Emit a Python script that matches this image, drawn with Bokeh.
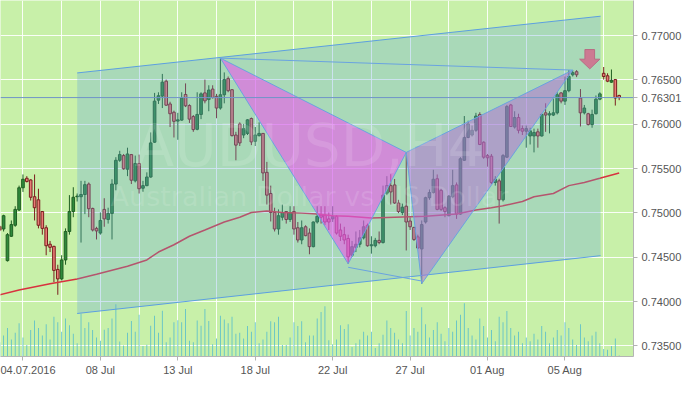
from bokeh.plotting import figure
from bokeh.models import Range1d, FixedTicker, Label, PrintfTickFormatter, Span
from bokeh.embed import file_html
from bokeh.resources import INLINE

# ---------------- data (AUDUSD H4 candles) ----------------
opens = [0.74848,0.74819,0.74462,0.74737,0.74861,0.75033,0.75284,0.75391,0.75372,0.75183,
0.75148,0.75016,0.74833,0.74647,0.74623,0.74363,0.74256,0.74470,0.74791,0.75016,
0.75183,0.75183,0.75208,0.75326,0.75051,0.74826,0.74773,0.75040,0.74926,0.74994,
0.75326,0.75594,0.75647,0.75493,0.75658,0.75362,0.75558,0.75279,0.75308,0.75405,
0.75798,0.76272,0.76318,0.76486,0.76229,0.76136,0.76036,0.76047,0.76336,0.76211,
0.76087,0.75943,0.76111,0.76354,0.76279,0.76397,0.76315,0.76183,0.76333,0.76515,
0.76390,0.75879,0.76004,0.75879,0.75897,0.76065,0.75808,0.75872,0.75897,0.75458,
0.75219,0.75005,0.74819,0.74952,0.75016,0.74926,0.75016,0.74833,0.74695,0.74844,
0.74773,0.74620,0.74898,0.74976,0.74976,0.74933,0.74933,0.74962,0.74808,0.74755,
0.74712,0.74523,0.74612,0.74647,0.74719,0.74861,0.74630,0.74630,0.74691,0.74666,
0.75223,0.75308,0.75316,0.75112,0.75005,0.75076,0.74909,0.74837,0.74730,0.74594,
0.74898,0.75172,0.75230,0.75386,0.75255,0.75059,0.74969,0.75183,0.75316,0.74987,
0.75594,0.75851,0.75879,0.75932,0.76111,0.75798,0.75647,0.75640,0.75344,0.75362,
0.75148,0.75629,0.76218,0.75969,0.76076,0.75951,0.75922,0.75868,0.75868,0.75915,
0.75868,0.76129,0.76104,0.76104,0.76129,0.76354,0.76261,0.76379,0.76558,0.76593,
0.76296,0.76129,0.76119,0.75997,0.76119,0.76283,0.76575,0.76547,0.76475,0.76504,
0.76325]
highs = [0.74858,0.74980,0.74773,0.74915,0.75076,0.75308,0.75434,0.75415,0.75380,0.75434,
0.75273,0.75022,0.74861,0.74684,0.74630,0.74416,0.74523,0.74826,0.75201,0.75290,
0.75219,0.75362,0.75362,0.75344,0.75059,0.74844,0.75005,0.75166,0.75059,0.75380,
0.75629,0.75701,0.75665,0.75736,0.75665,0.75647,0.75658,0.75362,0.75458,0.75908,
0.76354,0.76361,0.76568,0.76504,0.76254,0.76154,0.76129,0.76361,0.76461,0.76226,
0.76104,0.76361,0.76361,0.76504,0.76440,0.76440,0.76343,0.76746,0.76585,0.76539,
0.76397,0.75915,0.76022,0.76004,0.76058,0.76076,0.75969,0.76022,0.75900,0.75576,
0.75308,0.75059,0.75040,0.75094,0.75022,0.75076,0.75076,0.74898,0.74915,0.74861,
0.74826,0.74904,0.75076,0.75076,0.75076,0.75005,0.75076,0.74976,0.74880,0.74844,
0.74755,0.74684,0.74791,0.74808,0.74915,0.74880,0.74737,0.74719,0.74791,0.75308,
0.75415,0.75437,0.75383,0.75148,0.75105,0.75683,0.74952,0.74844,0.74755,0.74915,
0.75183,0.75265,0.75487,0.75434,0.75273,0.75076,0.75201,0.75487,0.75344,0.75629,
0.76093,0.76040,0.75986,0.76129,0.76136,0.75808,0.75665,0.75665,0.75415,0.75386,
0.75665,0.76218,0.76230,0.76147,0.76119,0.75986,0.75986,0.75961,0.75951,0.75951,
0.76119,0.76237,0.76147,0.76290,0.76361,0.76361,0.76539,0.76611,0.76611,0.76611,
0.76397,0.76218,0.76129,0.76165,0.76325,0.76361,0.76646,0.76575,0.76618,0.76511,
0.76333]
lows = [0.74794,0.74791,0.74452,0.74730,0.74844,0.75022,0.75237,0.75344,0.75140,0.74915,
0.74826,0.74755,0.74523,0.74559,0.74219,0.74077,0.74238,0.74416,0.74755,0.74952,
0.75129,0.74666,0.74987,0.74952,0.74791,0.74701,0.74755,0.74844,0.74880,0.74701,
0.75255,0.75576,0.75487,0.75415,0.75326,0.75344,0.75219,0.75237,0.75301,0.75397,
0.75790,0.76229,0.76183,0.76208,0.75969,0.75851,0.75825,0.76040,0.76194,0.76015,
0.75915,0.75932,0.76058,0.76236,0.76147,0.76290,0.76068,0.76165,0.76236,0.76361,
0.75862,0.75594,0.75755,0.75843,0.75879,0.75765,0.75755,0.75862,0.75362,0.75094,
0.74904,0.74791,0.74755,0.74915,0.74880,0.74898,0.74755,0.74666,0.74647,0.74737,
0.74534,0.74612,0.74880,0.74880,0.74862,0.74808,0.74898,0.74755,0.74684,0.74647,
0.74427,0.74505,0.74559,0.74612,0.74701,0.74620,0.74541,0.74612,0.74647,0.74655,
0.75201,0.75094,0.75101,0.74998,0.74976,0.74577,0.74808,0.74684,0.74594,0.74202,
0.74880,0.75148,0.75219,0.75030,0.75022,0.74952,0.74962,0.75166,0.74933,0.74980,
0.75587,0.75843,0.75862,0.75915,0.75765,0.75611,0.75522,0.75326,0.75308,0.74880,
0.75129,0.75619,0.75969,0.75951,0.75897,0.75879,0.75736,0.75772,0.75683,0.75736,
0.75862,0.75915,0.75897,0.76093,0.76111,0.76236,0.76218,0.76361,0.76539,0.76532,
0.75975,0.76111,0.75986,0.75961,0.76111,0.76272,0.76504,0.76475,0.76468,0.76211,
0.76272]
closes = [0.74805,0.74969,0.74755,0.74869,0.75040,0.75284,0.75380,0.75354,0.75177,0.75059,
0.74861,0.74826,0.74630,0.74612,0.74352,0.74256,0.74470,0.74791,0.75016,0.75177,
0.75190,0.75208,0.75319,0.75048,0.74808,0.74797,0.74915,0.74933,0.74994,0.75326,
0.75594,0.75658,0.75498,0.75665,0.75369,0.75558,0.75273,0.75308,0.75405,0.75790,
0.76261,0.76322,0.76475,0.76215,0.76119,0.76033,0.76050,0.76296,0.76208,0.76058,
0.75940,0.76111,0.76343,0.76264,0.76386,0.76301,0.76183,0.76333,0.76504,0.76379,
0.75872,0.75765,0.75790,0.75951,0.76050,0.75801,0.75879,0.75897,0.75451,0.75201,
0.75005,0.74819,0.74969,0.75005,0.74926,0.75005,0.74819,0.74695,0.74833,0.74744,
0.74620,0.74898,0.74962,0.74952,0.74898,0.74898,0.74962,0.74773,0.74737,0.74695,
0.74505,0.74620,0.74647,0.74719,0.74844,0.74630,0.74641,0.74691,0.74666,0.75201,
0.75308,0.75237,0.75112,0.75016,0.75065,0.74898,0.74844,0.74701,0.74605,0.74869,
0.75172,0.75230,0.75380,0.75040,0.75040,0.75016,0.75190,0.75308,0.74987,0.75611,
0.75851,0.76004,0.75932,0.76093,0.75772,0.75629,0.75622,0.75344,0.75380,0.75148,
0.75647,0.76200,0.75975,0.76076,0.75932,0.75922,0.75951,0.75926,0.75908,0.75868,
0.76111,0.76104,0.76119,0.76129,0.76333,0.76261,0.76379,0.76539,0.76582,0.76558,
0.76129,0.76183,0.75997,0.76111,0.76283,0.76343,0.76539,0.76486,0.76497,0.76296,
0.76301]

# tick volume, one value per bar
volumes = [1500,2200,3000,1800,2500,3500,2000,1200,2800,3800,3000,2200,3400,1800,4200,3600,
2600,4000,3300,2400,1400,4500,3000,3600,2800,2000,
1670,2830,3000,4000,5500,1570,1170,2500,3730,2600,4400,1100,1230,3230,4300,2500,
4830,1500,2000,3600,3830,3600,5000,1670,1500,3800,3230,5000,3730,1300,1900,4300,3900,3500,
4200,2400,2500,1900,3200,2600,3600,1400,1800,2600,3700,3600,4200,1200,1200,2000,3600,3200,
3700,1500,2200,2200,4000,4700,5300,1700,1300,1800,3300,2900,3400,1000,1400,1800,2600,2200,
2600,900,1400,2300,3800,
3000,2500,1800,1400,4800,2200,3000,2600,5200,3400,2000,2800,3600,2400,1600,3000,2600,3800,
4400,5600,3000,2200,1800,4000,3200,2000,2800,1600,4200,3600,4800,3000,2200,2600,1400,2000,
1600,2400,1800,3200,2600,1400,2000,2800,2200,3600,3000,1800,1200,3400,2000,1600,2200,2600,
1400,800,700,1100,1900,100]

# moving average, sampled at bar indices
ma_bar = [0,5,13,20,25,33,38,41,45,49,53,58,62,65,69,73,78,82,86,90,96,102,110,118,123,127,130,135,138,143,147,151,155,160]
ma_val = [0.74077,0.74130,0.74202,0.74256,0.74309,0.74398,0.74470,0.74559,0.74641,0.74737,
0.74808,0.74898,0.74952,0.75005,0.75022,0.75005,0.74998,0.74987,0.74969,0.74962,0.74944,
0.74952,0.74962,0.74987,0.75033,0.75059,0.75080,0.75129,0.75183,0.75219,0.75308,0.75344,
0.75391,0.75451]

# axis ticks and labels
price_ticks = [0.735,0.740,0.745,0.750,0.755,0.760,0.765,0.770]
date_ticks = [6,26,46,66,86,106,126,146]
date_labels = ["04.07.2016","08 Jul","13 Jul","18 Jul","22 Jul","27 Jul","01 Aug","05 Aug"]
last_price = 0.76301

# drawn objects (bar index, price)
channel_bar = [20, 155.2]
channel_top = [0.76579, 0.77219]
channel_bot = [0.73866, 0.74518]
xab_bar = [57, 90, 105]
xab_price = [0.76746, 0.74427, 0.75683]
bcd_bar = [105, 109, 148]
bcd_price = [0.75683, 0.74202, 0.76611]
xd_bar = [57, 148]
xd_price = [0.76746, 0.76611]
ac_bar = [90, 109]
ac_price = [0.74387, 0.74232]
arrow_bar = 152.4
arrow_tip, arrow_neck, arrow_top = 0.76625, 0.76734, 0.76843

# ---------------- figure ----------------
p = figure(width=684, height=378, output_backend="svg", toolbar_location=None,
           x_range=Range1d(0.2, 163.7), y_range=Range1d(0.73381, 0.77396),
           y_axis_location="right", background_fill_color="#c8f0a9",
           border_fill_color="white", outline_line_color=None,
           min_border_left=0, min_border_top=0, min_border_right=0, min_border_bottom=0)

p.extra_y_ranges = {"vol": Range1d(0, 37500)}

# grid
p.xgrid.ticker = FixedTicker(ticks=list(range(6, 161, 10)))
p.ygrid.ticker = FixedTicker(ticks=price_ticks)
for g in (p.xgrid, p.ygrid):
    g.grid_line_color = "white"
    g.grid_line_alpha = 0.9
    g.grid_line_width = 1

# axes
p.yaxis.ticker = FixedTicker(ticks=price_ticks + [last_price])
p.yaxis.formatter = PrintfTickFormatter(format="%.5f")
p.xaxis.ticker = FixedTicker(ticks=date_ticks)
p.xaxis.major_label_overrides = {t: l for t, l in zip(date_ticks, date_labels)}
for ax in (p.xaxis, p.yaxis):
    ax.axis_line_color = "#b4b4b4"
    ax.major_tick_line_color = "#b4b4b4"
    ax.major_tick_out = 4
    ax.major_tick_in = 0
    ax.minor_tick_line_color = None
    ax.major_label_text_font = "Liberation Sans"
    ax.major_label_text_font_size = "11px"
    ax.major_label_text_color = "#555555"
p.yaxis.major_label_standoff = 4
p.xaxis.major_label_standoff = 3

# volume
vol_x = list(range(len(volumes)))
p.vbar(x=vol_x, top=volumes, bottom=0, width=0.22, y_range_name="vol",
       fill_color="#5cbfca", line_color=None)

# candles
idx = list(range(len(opens)))
up = [c >= o for o, c in zip(opens, closes)]
wick_col = ["#1f5e22" if u else "#7a1e1e" for u in up]
body_fill = ["#2f8a3c" if u else "#e77b76" for u in up]
tops = [max(o, c) for o, c in zip(opens, closes)]
bots = [min(o, c) for o, c in zip(opens, closes)]
p.segment(x0=idx, y0=lows, x1=idx, y1=highs, line_color=wick_col, line_width=1)
p.vbar(x=idx, top=tops, bottom=bots, width=0.68, fill_color=body_fill,
       line_color=wick_col, line_width=1)

# moving average
p.line(ma_bar, ma_val, line_color="#d8323f", line_width=1.5)

# channel
p.patch([channel_bar[0], channel_bar[1], channel_bar[1], channel_bar[0]],
        [channel_top[0], channel_top[1], channel_bot[1], channel_bot[0]],
        fill_color="#64a7dc", fill_alpha=0.3, line_color=None)
p.line(channel_bar, channel_top, line_color="#5c9fe0", line_width=1)
p.line(channel_bar, channel_bot, line_color="#5c9fe0", line_width=1)

# harmonic pattern
p.patch(xab_bar, xab_price, fill_color="#f04cf0", fill_alpha=0.55,
        line_color="#6aa3e0", line_width=1)
p.patch(bcd_bar, bcd_price, fill_color="#b26ad6", fill_alpha=0.5,
        line_color="#6aa3e0", line_width=1)
p.line(xd_bar, xd_price, line_color="#6aa3e0", line_width=1)
p.line(ac_bar, ac_price, line_color="#6aa3e0", line_width=1)

# arrow
aw_s, aw_h = 1.25, 2.6
p.patch([arrow_bar - aw_s, arrow_bar + aw_s, arrow_bar + aw_s, arrow_bar + aw_h, arrow_bar,
         arrow_bar - aw_h, arrow_bar - aw_s],
        [arrow_top, arrow_top, arrow_neck, arrow_neck, arrow_tip, arrow_neck, arrow_neck],
        fill_color="#cc7a92", line_color="#b86c84", line_width=1)

# current price line
p.add_layout(Span(location=last_price, dimension="width", line_color="#6f94c8", line_width=1))

# watermark
p.add_layout(Label(x=80, y=0.75758, text="AUDUSD,H4", text_align="center",
                   text_baseline="middle", text_color="white", text_alpha=0.13,
                   text_font="DejaVu Sans", text_font_size="58px"))
p.add_layout(Label(x=80, y=0.75190, text="Australian Dollar vs US Dollar", text_align="center",
                   text_baseline="middle", text_color="white", text_alpha=0.13,
                   text_font="DejaVu Sans", text_font_size="27px"))

open("out.html", "w").write(file_html(p, INLINE))
